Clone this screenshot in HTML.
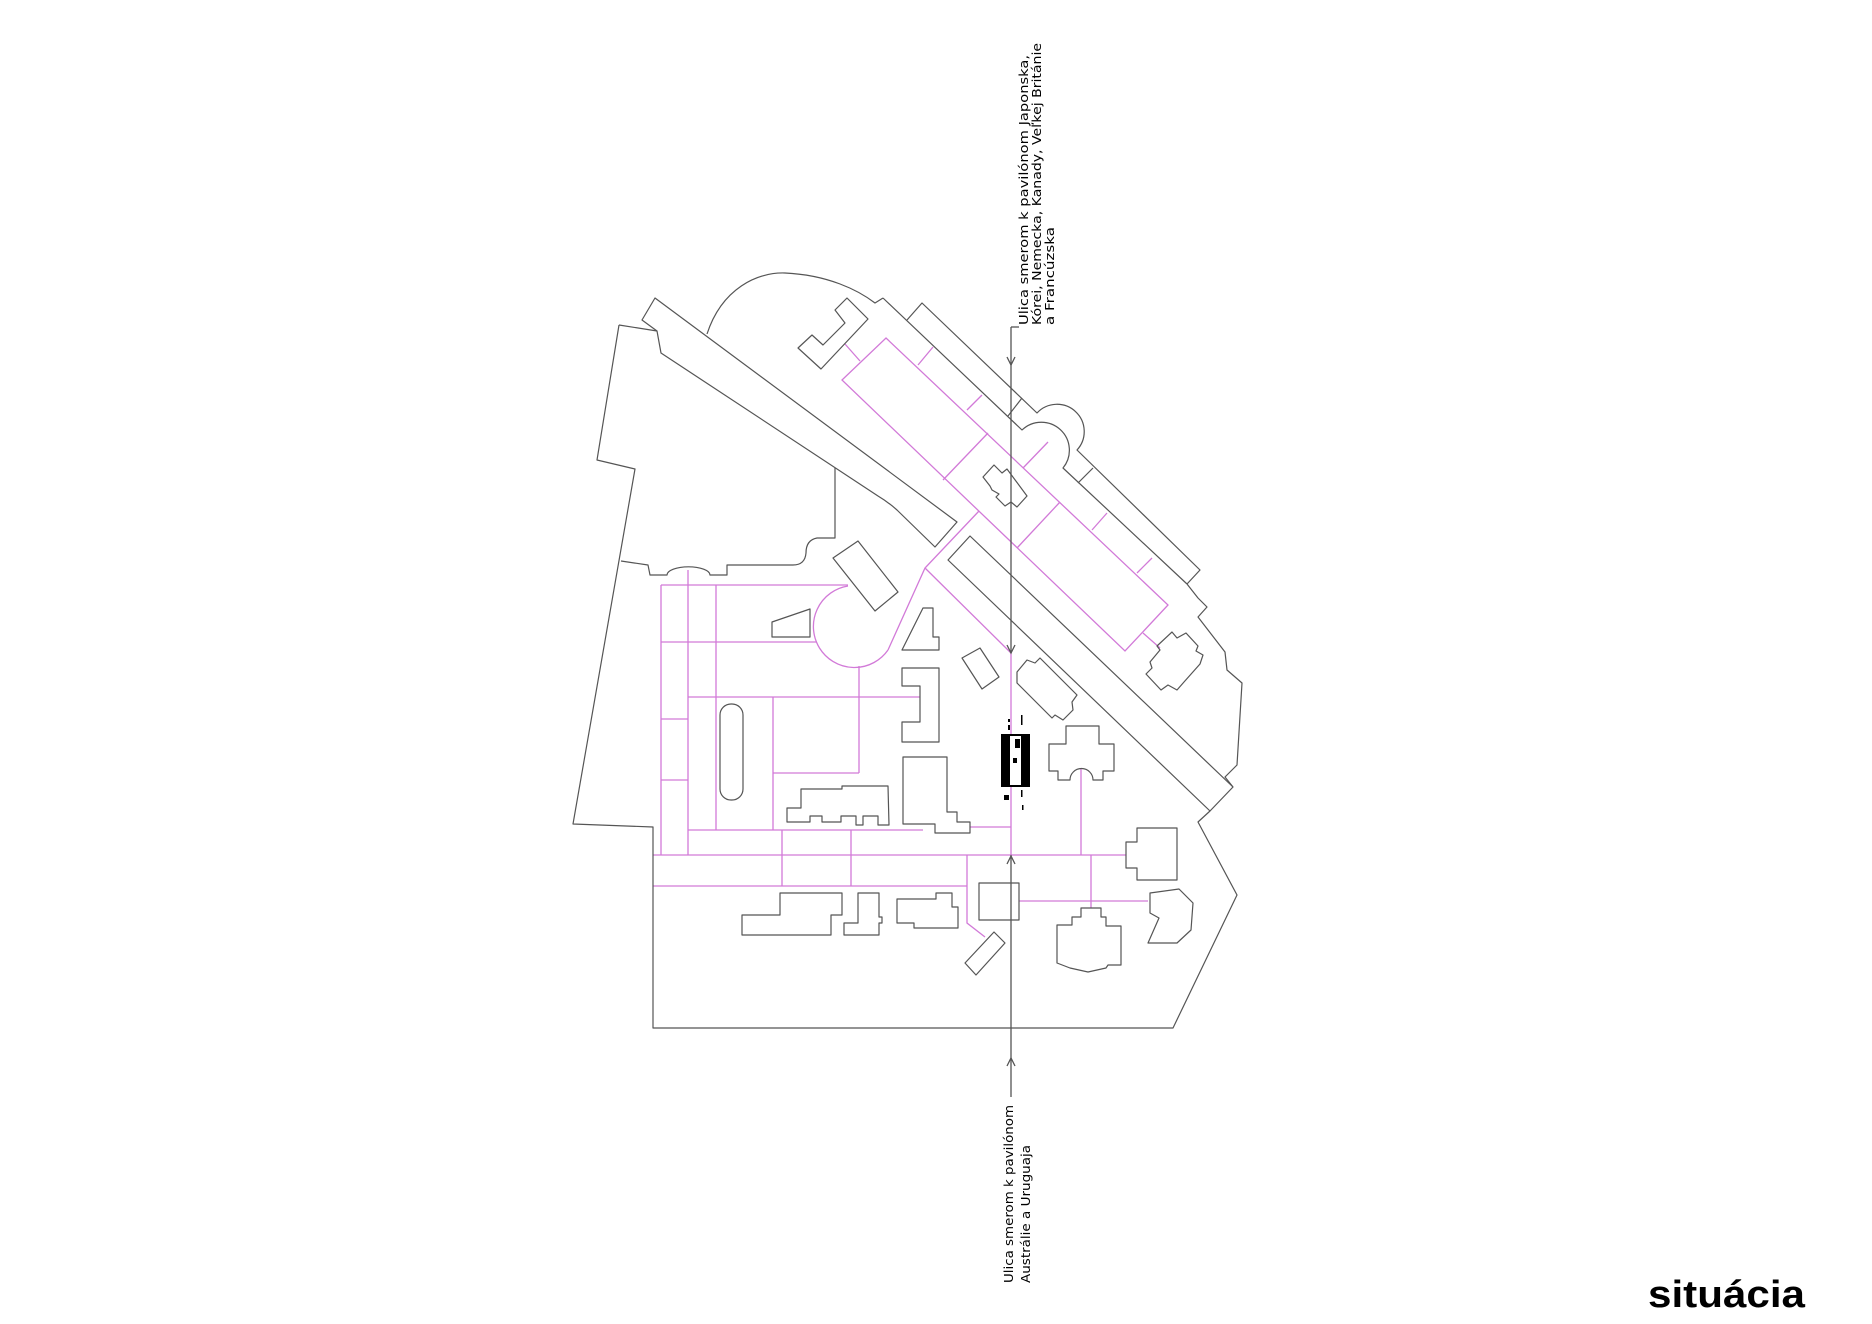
<!DOCTYPE html>
<html><head><meta charset="utf-8"><style>
html,body{margin:0;padding:0;background:#fff;}
svg{display:block;}
</style></head><body>
<svg width="1872" height="1324" viewBox="0 0 1872 1324" xmlns="http://www.w3.org/2000/svg">
<rect width="1872" height="1324" fill="#fff"/>
<g fill="none" stroke="#d27ad8" stroke-width="1.3">
<polygon points="886,338 1168,605 1125,651 842,380"/>
<line x1="988" y1="433" x2="943" y2="480"/>
<line x1="1060" y1="502" x2="1017" y2="548"/>
<line x1="845" y1="344" x2="860" y2="361"/>
<line x1="918" y1="365" x2="933" y2="347"/>
<line x1="967" y1="410" x2="982" y2="395"/>
<line x1="1023" y1="468" x2="1048" y2="442"/>
<line x1="1092" y1="530" x2="1107" y2="513"/>
<line x1="1137" y1="573" x2="1152" y2="558"/>
<line x1="1143" y1="633" x2="1160" y2="648"/>
<polyline points="979,511 925,568 888,650"/>
<polyline points="925,568 1011,653"/>
<path d="M848,586 A41 41 0 1 0 888,650"/>
<line x1="661" y1="585" x2="661" y2="855"/>
<line x1="688" y1="570" x2="688" y2="855"/>
<line x1="716" y1="585" x2="716" y2="830"/>
<line x1="773" y1="697" x2="773" y2="830"/>
<line x1="859" y1="666" x2="859" y2="773"/>
<line x1="661" y1="585" x2="848" y2="585"/>
<line x1="661" y1="642" x2="817" y2="642"/>
<line x1="688" y1="697" x2="920" y2="697"/>
<line x1="661" y1="719" x2="688" y2="719"/>
<line x1="661" y1="780" x2="688" y2="780"/>
<line x1="773" y1="773" x2="859" y2="773"/>
<line x1="688" y1="830" x2="923" y2="830"/>
<line x1="782" y1="830" x2="782" y2="886"/>
<line x1="851" y1="830" x2="851" y2="886"/>
<line x1="653" y1="855" x2="1126" y2="855"/>
<line x1="653" y1="886" x2="967" y2="886"/>
<polyline points="967,855 967,923 985,937"/>
<line x1="1011" y1="653" x2="1011" y2="855"/>
<line x1="970" y1="827" x2="1011" y2="827"/>
<line x1="1081" y1="769" x2="1081" y2="855"/>
<line x1="1091" y1="855" x2="1091" y2="908"/>
<line x1="1019" y1="901" x2="1148" y2="901"/>
</g>
<g fill="none" stroke="#555" stroke-width="1.2" stroke-linejoin="round">
<path d="M655,298 L957,522 L935,547 L897,510 Q888,502 878,496 L661,353 L657,331 L642,320 Z"/>
<polyline points="619,325 657,331"/>
<path d="M835,468 L835,538 L817,538 Q806,540 806,553 Q805,565 793,565 L727,565 L727,575 L710,575 A21 8 0 0 0 667,575 L650,575 L648,565 L621,561"/>
<polyline points="619,325 597,460 635,469 573,824 653,827 653,1028 1173,1028 1237,895 1198,822 1210,811"/>
<polyline points="1233,787 1225,777 1237,765 1242,683 1227,670 1225,652 1198,617 1207,607 1198,598 1187,584"/>
<path d="M707,334 C722,288 758,272 785,273 C828,275 858,290 875,303 L883,298"/>
<path d="M883,298 L1022,430 A28 28 0 0 1 1063,468 L1187,584"/>
<path d="M907,320 L922,303 L1037,413 A27 27 0 0 1 1077,450 L1200,570 L1187,584"/>
<line x1="1008" y1="416" x2="1022" y2="398"/>
<line x1="1078" y1="483" x2="1093" y2="468"/>
<polygon points="948,560 970,536 1233,787 1210,811"/>
<polygon points="847,298 868,319 821,369 798,348 812,335 823,345 845,323 835,310"/>
<polygon points="983,477 994,465 1002,473 1007,469 1027,496 1017,507 1011,502 1005,506 996,497 999,494 992,490 990,486"/>
<polygon points="1150,662 1160,650 1157,646 1172,632 1177,638 1186,633 1198,646 1196,651 1203,655 1200,664 1184,682 1177,690 1168,685 1161,690 1146,674 1152,668"/>
<polygon points="772,622 810,609 810,637 772,637"/>
<polygon points="833,558 858,541 898,592 875,611"/>
<polygon points="902,650 923,608 933,608 933,637 939,637 939,650"/>
<polygon points="902,668 939,668 939,742 902,742 902,722 920,722 920,686 902,686"/>
<rect x="720" y="704" width="23" height="96" rx="11" ry="11"/>
<polygon points="903,757 947,757 947,812 957,812 957,822 970,822 970,833 935,833 935,824 903,824"/>
<polygon points="787,808 801,808 801,789 842,789 842,786 888,786 889,825 878,825 878,816 863,816 863,825 856,825 856,816 841,816 841,822 822,822 822,816 810,816 810,822 787,822"/>
<polygon points="962,658 980,648 999,677 982,689"/>
<polygon points="1017,672 1027,660 1035,663 1040,658 1077,695 1072,702 1073,710 1063,720 1055,715 1052,718 1017,683"/>
<path d="M1066,726 L1099,726 L1099,744 L1114,744 L1114,771 L1103,771 L1103,780 L1093,780 A11.5 11.5 0 0 0 1070,780 L1058,780 L1058,771 L1049,771 L1049,744 L1066,744 Z"/>
<polygon points="1126,842 1137,842 1137,828 1177,828 1177,880 1137,880 1137,868 1126,868"/>
<polygon points="742,915 780,915 780,893 842,893 842,915 831,915 831,935 742,935"/>
<polygon points="844,923 858,923 858,893 879,893 879,917 882,917 882,923 879,923 879,935 844,935"/>
<polygon points="897,899 936,899 936,893 952,893 952,907 958,907 958,928 914,928 914,923 897,923"/>
<rect x="979" y="883" width="40" height="37"/>
<polygon points="965,963 994,932 1005,943 976,975"/>
<polygon points="1057,925 1072,925 1072,917 1081,917 1081,908 1101,908 1101,917 1106,917 1106,926 1121,926 1121,965 1108,965 1106,968 1088,972 1070,968 1057,963"/>
<polygon points="1150,893 1179,889 1193,903 1191,930 1177,943 1148,943 1159,918 1150,913"/>
</g>
<rect x="1001" y="734" width="29" height="53" fill="#000"/>
<rect x="1010" y="736" width="11" height="49" fill="#fff"/>
<rect x="1015" y="739" width="5" height="9" fill="#000"/>
<rect x="1013" y="758" width="4" height="5" fill="#000"/>
<rect x="1008" y="719" width="2" height="3" fill="#000"/>
<rect x="1008" y="725" width="2" height="5" fill="#000"/>
<rect x="1021" y="715" width="1.5" height="10" fill="#000"/>
<rect x="1004" y="795" width="5" height="5" fill="#000"/>
<rect x="1021" y="790" width="1.5" height="7" fill="#000"/>
<rect x="1022" y="805" width="1.5" height="5" fill="#000"/>
<g fill="none" stroke="#555" stroke-width="1.3">
<line x1="1011" y1="327" x2="1011" y2="653"/>
<line x1="1011" y1="855" x2="1011" y2="1097"/>
<line x1="1011" y1="327" x2="1019" y2="327"/>
<polyline points="1007,357 1011,365 1015,357"/>
<polyline points="1007,645 1011,653 1015,645"/>
<polyline points="1007,864 1011,856 1015,864"/>
<polyline points="1007,1066 1011,1058 1015,1066"/>
</g>
<g font-family="'DejaVu Sans', 'Liberation Sans', sans-serif" fill="#000">
<text transform="translate(1028,325) rotate(-90)" font-size="12" textLength="270" lengthAdjust="spacingAndGlyphs">Ulica smerom k pavilónom Japonska,</text>
<text transform="translate(1041,325) rotate(-90)" font-size="12" textLength="282" lengthAdjust="spacingAndGlyphs">Kórei, Nemecka, Kanady, Veľkej Británie</text>
<text transform="translate(1054,325) rotate(-90)" font-size="12" textLength="98" lengthAdjust="spacingAndGlyphs">a Francúzska</text>
<text transform="translate(1013,1283) rotate(-90)" font-size="12.5" textLength="178" lengthAdjust="spacingAndGlyphs">Ulica smerom k pavilónom</text>
<text transform="translate(1030,1283) rotate(-90)" font-size="12.5" textLength="138" lengthAdjust="spacingAndGlyphs">Austrálie a Uruguaja</text>
</g>
<text x="1648" y="1307" font-family="'Liberation Sans', Arial, sans-serif" font-weight="bold" font-size="38" textLength="157" lengthAdjust="spacingAndGlyphs" fill="#000">situácia</text>
</svg>
</body></html>
